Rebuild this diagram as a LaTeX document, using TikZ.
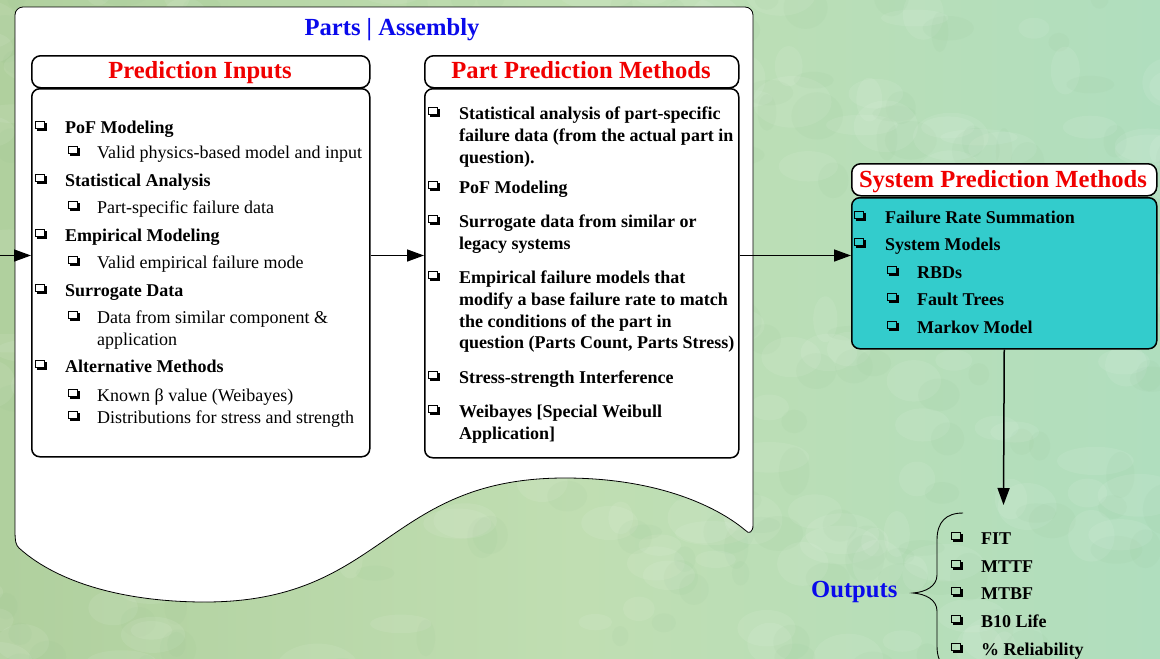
\documentclass[tikz,border=0pt]{standalone}
\usepackage{fontspec}
\setmainfont{Liberation Serif}
\usetikzlibrary{arrows.meta,calc}

\definecolor{bgL}{RGB}{176,208,158}
\definecolor{bgM}{RGB}{192,222,178}
\definecolor{bgR}{RGB}{176,222,190}
\definecolor{blotD}{RGB}{130,185,130}
\definecolor{teal}{RGB}{51,204,204}
\definecolor{hdred}{RGB}{240,0,0}
\definecolor{hdblue}{RGB}{10,10,235}

\tikzset{
  body/.style={anchor=base west, inner sep=0pt, font=\fontsize{18}{22}\selectfont},
  bbody/.style={body, font=\fontsize{18}{22}\selectfont\bfseries},
  % shadowed square bullet, placed at the base-left point of its line
  qbul/.pic={
    \fill (2,-2) rectangle (12.2,-4.2);
    \fill (10,-2) rectangle (12.2,-10.5);
    \draw[line width=1.1pt] (0.55,-4.75) rectangle (9.45,-11.95);
  },
  hdtext/.style={anchor=base, inner sep=0pt, text=hdred, font=\fontsize{24.6}{28}\selectfont\bfseries},
  hdbox/.style={draw, line width=1.5pt, rounded corners=9pt, fill=white, anchor=north west, inner sep=0pt},
  listbox/.style={draw, line width=1.5pt, rounded corners=8pt, fill=white, anchor=north west, inner sep=0pt},
  arr/.style={line width=1.5pt, -{Triangle[length=17pt,width=12pt]}},
}

\begin{document}
\begin{tikzpicture}[x=1pt, y=-1pt]
\useasboundingbox (0,0) rectangle (1160,659);
\clip (0,0) rectangle (1160,659);

% mottled green backdrop
\shade[left color=bgL, right color=bgR, middle color=bgM] (0,0) rectangle (1160,659);
\pgfmathsetseed{11}
\foreach \i in {1,...,220} {
  \pgfmathsetmacro\xa{rnd*1200-20}
  \pgfmathsetmacro\ya{rnd*700-20}
  \pgfmathsetmacro\ra{12+rnd*30}
  \pgfmathsetmacro\rb{8+rnd*18}
  \fill[white, opacity=.08] (\xa,\ya) ellipse ({\ra} and {\rb});
  \fill[blotD, opacity=.06] (\xa+25,\ya+14) ellipse ({\rb} and {\ra*0.6});
}

% page outline with the wavy lower edge
\draw[fill=white, line width=0.8pt, rounded corners=8pt]
  (15,530) -- (15,7) -- (753,7) -- (753,520) [sharp corners]
  -- (753,525) .. controls (753,532) and (749,535) .. (745,530)
  .. controls (715,505) and (655,478) .. (565,478)
  .. controls (385,478) and (385,602) .. (205,602)
  .. controls (130,602) and (60,585) .. (19,548)
  .. controls (16,545) and (15,542) .. (15,530) -- cycle;

\node[anchor=base, inner sep=0pt, text=hdblue, font=\fontsize{24.6}{28}\selectfont\bfseries] (ttl) at (392,35) {Parts | Assembly};

% prediction inputs
\node[hdbox, minimum width=338pt, minimum height=32pt] (pih) at (31,55) {};
\node[hdtext] (pit) at (200,78) {Prediction Inputs};
\node[listbox, minimum width=338pt, minimum height=368pt] (pib) at (31,88) {};

\pic (pi1b) at (35,133) {qbul};  \node[bbody] (pi1) at (65,133) {PoF Modeling};
\pic (pi2b) at (68,158) {qbul};  \node[body] (pi2) at (97,158) {Valid physics-based model and input};
\pic (pi3b) at (35,186) {qbul};  \node[bbody] (pi3) at (65,186) {Statistical Analysis};
\pic (pi4b) at (68,213) {qbul};  \node[body] (pi4) at (97,213) {Part-specific failure data};
\pic (pi5b) at (35,241) {qbul};  \node[bbody] (pi5) at (65,241) {Empirical Modeling};
\pic (pi6b) at (68,268) {qbul};  \node[body] (pi6) at (97,268) {Valid empirical failure mode};
\pic (pi7b) at (35,296) {qbul};  \node[bbody] (pi7) at (65,296) {Surrogate Data};
\pic (pi8b) at (68,323) {qbul};  \node[body] (pi8) at (97,323) {Data from similar component \&};
                                 \node[body] (pi8c) at (97,345) {application};
\pic (pi9b) at (35,372) {qbul};  \node[bbody] (pi9) at (65,372) {Alternative Methods};
\pic (pi10b) at (68,401) {qbul}; \node[body] (pi10) at (97,401) {Known β value (Weibayes)};
\pic (pi11b) at (68,423) {qbul}; \node[body] (pi11) at (97,423) {Distributions for stress and strength};

% part prediction methods
\node[hdbox, minimum width=314pt, minimum height=32pt] (pph) at (424,55) {};
\node[hdtext] (ppt) at (581,78) {Part Prediction Methods};
\node[listbox, minimum width=314pt, minimum height=369pt] (ppb) at (424,88) {};

\pic (pp1b) at (428,119) {qbul}; \node[bbody] (pp1) at (459,119) {Statistical analysis of part-specific};
                                 \node[bbody] (pp1c) at (459,141) {failure data (from the actual part in};
                                 \node[bbody] (pp1d) at (459,163) {question).};
\pic (pp2b) at (428,193) {qbul}; \node[bbody] (pp2) at (459,193) {PoF Modeling};
\pic (pp3b) at (428,227) {qbul}; \node[bbody] (pp3) at (459,227) {Surrogate data from similar or};
                                 \node[bbody] (pp3c) at (459,249) {legacy systems};
\pic (pp4b) at (428,283) {qbul}; \node[bbody] (pp4) at (459,283) {Empirical failure models that};
                                 \node[bbody] (pp4c) at (459,305) {modify a base failure rate to match};
                                 \node[bbody] (pp4d) at (459,327) {the conditions of the part in};
                                 \node[bbody] (pp4e) at (459,348) {question (Parts Count, Parts Stress)};
\pic (pp5b) at (428,383) {qbul}; \node[bbody] (pp5) at (459,383) {Stress-strength Interference};
\pic (pp6b) at (428,417) {qbul}; \node[bbody] (pp6) at (459,417) {Weibayes [Special Weibull};
                                 \node[bbody] (pp6c) at (459,439) {Application]};

% system prediction methods
\node[hdbox, minimum width=305pt, minimum height=32pt] (syh) at (851,163) {};
\node[hdtext] (syt) at (1003,187) {System Prediction Methods};
\node[listbox, fill=teal, minimum width=305pt, minimum height=151pt] (syb) at (851,197) {};

\pic (sy1b) at (854,223) {qbul}; \node[bbody] (sy1) at (885,223) {Failure Rate Summation};
\pic (sy2b) at (854,250) {qbul}; \node[bbody] (sy2) at (885,250) {System Models};
\pic (sy3b) at (887,278) {qbul}; \node[bbody] (sy3) at (917,278) {RBDs};
\pic (sy4b) at (887,305) {qbul}; \node[bbody] (sy4) at (917,305) {Fault Trees};
\pic (sy5b) at (887,333) {qbul}; \node[bbody] (sy5) at (917,333) {Markov Model};

% flow arrows
\coordinate (lin) at (0,255.5);
\coordinate (oarr) at (1003.5,505);
\draw[arr] (lin) -- (lin -| pib.west);
\draw[arr] (lin -| pib.east) -- (lin -| ppb.west);
\draw[arr] (lin -| ppb.east) -- (lin -| syb.west);
\draw[arr] (syb.south) -- (oarr);

% outputs
\node[anchor=base west, inner sep=0pt, text=hdblue, font=\fontsize{24.6}{28}\selectfont\bfseries] (outl) at (811,597) {Outputs};
\draw[line width=0.9pt] (963,513) .. controls (946,513) and (937,522) .. (937,540) -- (937,575)
  .. controls (937,586) and (926,592) .. (913,593)
  .. controls (926,594) and (937,600) .. (937,611) -- (937,646)
  .. controls (937,664) and (946,673) .. (963,673);
\pic (o1b) at (951,544) {qbul}; \node[bbody] (o1) at (981,544) {FIT};
\pic (o2b) at (951,572) {qbul}; \node[bbody] (o2) at (981,572) {MTTF};
\pic (o3b) at (951,599) {qbul}; \node[bbody] (o3) at (981,599) {MTBF};
\pic (o4b) at (951,627) {qbul}; \node[bbody] (o4) at (981,627) {B10 Life};
\pic (o5b) at (951,655) {qbul}; \node[bbody] (o5) at (981,655) {\% Reliability};
\end{tikzpicture}
\end{document}
